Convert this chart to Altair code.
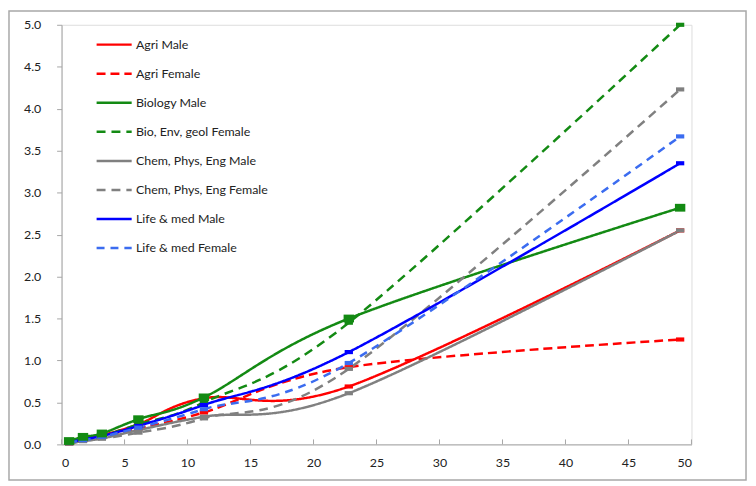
import altair as alt
import pandas as pd

# ---- data ----
x_vals = [0.6, 1.7, 3.2, 6.1, 11.3, 22.8, 49.1]

series_names = [
    "Agri Male",
    "Agri Female",
    "Biology Male",
    "Bio, Env, geol  Female",
    "Chem, Phys, Eng Male",
    "Chem, Phys, Eng  Female",
    "Life & med Male",
    "Life & med  Female",
]

agri_male = [0.02, 0.06, 0.11, 0.24, 0.55, 0.69, 2.55]
agri_female = [0.01, 0.05, 0.09, 0.19, 0.38, 0.92, 1.25]
biology_male = [0.04, 0.09, 0.13, 0.30, 0.56, 1.50, 2.82]
bio_female = [0.02, 0.06, 0.10, 0.24, 0.50, 1.45, 5.00]
chem_male = [0.01, 0.04, 0.07, 0.17, 0.33, 0.61, 2.55]
chem_female = [0.01, 0.04, 0.07, 0.14, 0.31, 0.90, 4.23]
life_male = [0.02, 0.06, 0.10, 0.22, 0.47, 1.10, 3.35]
life_female = [0.02, 0.05, 0.09, 0.20, 0.42, 0.97, 3.67]

all_values = [agri_male, agri_female, biology_male, bio_female,
              chem_male, chem_female, life_male, life_female]

colors = ["#ff0000", "#ff0000", "#138a13", "#138a13",
          "#808080", "#808080", "#0000ff", "#3b6cf0"]
dashes = [[1, 0], [9, 5], [1, 0], [9, 6], [1, 0], [9, 6], [1, 0], [8, 6]]

x_ticks = [0, 5, 10, 15, 20, 25, 30, 35, 40, 45, 50]
y_ticks = [0.0, 0.5, 1.0, 1.5, 2.0, 2.5, 3.0, 3.5, 4.0, 4.5, 5.0]

rows = []
for name, vals, col in zip(series_names, all_values, colors):
    for i, (xv, yv) in enumerate(zip(x_vals, vals)):
        rows.append({"series": name, "x": xv, "y": yv, "col": col, "order": i})
df = pd.DataFrame(rows)

W, H = 635, 423
FONT = "Lato"

xs = alt.Scale(domain=[0, 50], nice=False)
ys = alt.Scale(domain=[0, 5], nice=False)

legend_cfg = dict(title=None, orient="none", legendX=34, legendY=1,
                  symbolType="stroke", symbolSize=1250,
                  symbolStrokeWidth=2.5, rowPadding=3.3,
                  labelFont=FONT, labelFontSize=12.5,
                  labelColor="#222222", labelOffset=3)

base = alt.Chart(df)

lines = base.mark_line(interpolate="cardinal", strokeWidth=2.5).encode(
    x=alt.X("x:Q", scale=xs, axis=alt.Axis(values=x_ticks, title=None, tickSize=0,
                                          labelPadding=12, domainColor="#a6a6a6",
                                          labelFont=FONT, labelFontSize=12.5,
                                          labelColor="#222222", grid=False)),
    y=alt.Y("y:Q", scale=ys, axis=alt.Axis(values=y_ticks, format=".1f", title=None,
                                          tickSize=5, tickColor="#a6a6a6",
                                          labelPadding=16, domainColor="#a6a6a6",
                                          labelFont=FONT, labelFontSize=12.5,
                                          labelColor="#222222", grid=False)),
    color=alt.Color("series:N", scale=alt.Scale(domain=series_names, range=colors),
                    legend=alt.Legend(**legend_cfg)),
    strokeDash=alt.StrokeDash("series:N", scale=alt.Scale(domain=series_names, range=dashes),
                              legend=alt.Legend(**legend_cfg)),
    order="order:Q",
)

bar_shape = "M-1,-0.5H1V0.5H-1Z"
sq_shape = "M-1,-0.75H1V0.75H-1Z"

pts = base.transform_filter(alt.datum.series != "Biology Male").mark_point(
    shape=bar_shape, filled=True, size=70, opacity=1
).encode(x=alt.X("x:Q", scale=xs), y=alt.Y("y:Q", scale=ys),
         color=alt.Color("col:N", scale=None))

pts_bio = base.transform_filter(alt.datum.series == "Biology Male").mark_point(
    shape=sq_shape, filled=True, size=110, opacity=1
).encode(x=alt.X("x:Q", scale=xs), y=alt.Y("y:Q", scale=ys),
         color=alt.Color("col:N", scale=None))

xt = alt.Chart(pd.DataFrame({"t": x_ticks})).mark_rule(color="#a6a6a6", strokeWidth=1).encode(
    x=alt.X("t:Q", scale=xs), y=alt.value(H - 5), y2=alt.value(H)
)

border = alt.Chart(pd.DataFrame({"a": [0]})).mark_rect(
    fill=None, stroke="#a8a8a8", strokeWidth=1.5
).encode(x=alt.value(-53), x2=alt.value(W + 55), y=alt.value(-14), y2=alt.value(H + 36))

chart = alt.layer(border, xt, lines, pts, pts_bio).properties(
    width=W, height=H,
    autosize=alt.AutoSizeParams(type="none"),
    padding={"left": 54, "top": 15, "right": 57, "bottom": 38},
).configure_view(stroke=None).configure(background="white")

chart.save("out.html", embed_options={"renderer": "svg", "actions": False})
